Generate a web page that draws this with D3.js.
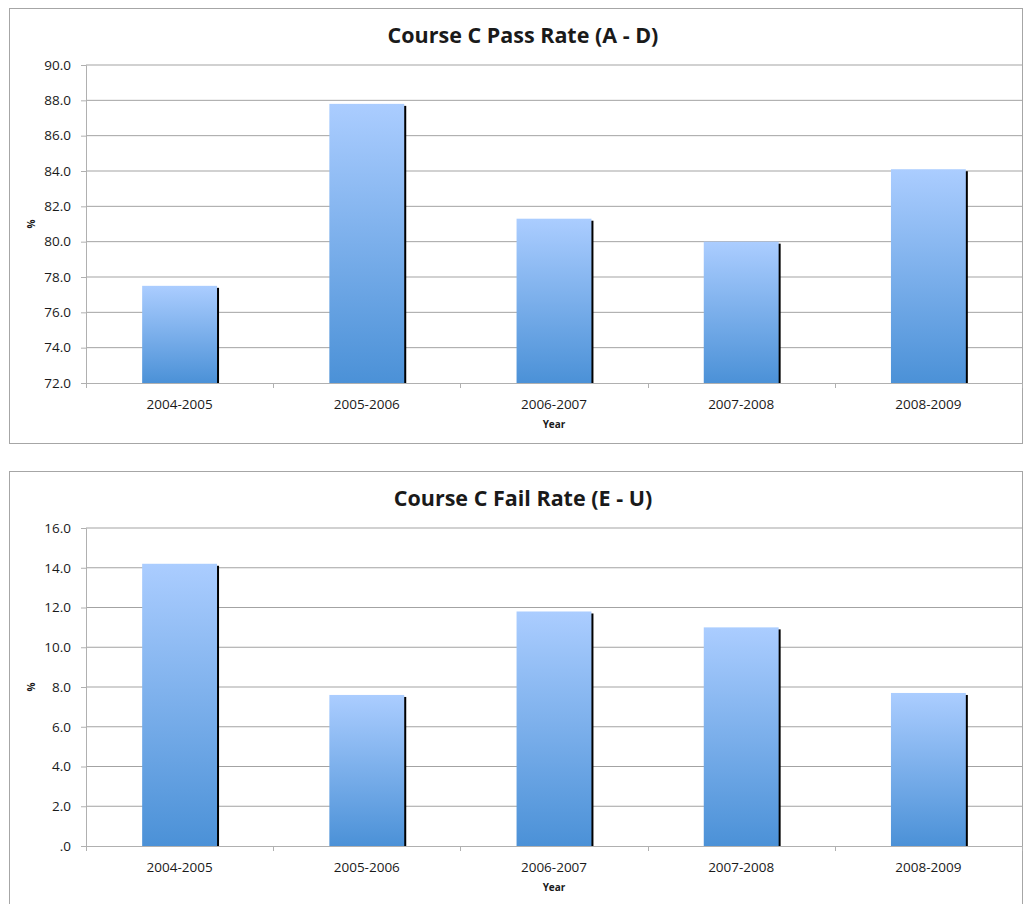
<!DOCTYPE html>
<html>

<head>
    <meta charset="utf-8">
    <script src="https://d3js.org/d3.v7.min.js"></script>
    <style>
        body { margin: 0; background: #fff; }
        text { font-family: "Open Sans", Lato, sans-serif; fill: #1a1a1a; }
    </style>
</head>

<body>
    <div id="viz"></div>

    <script>

        // data
        var years = ["2004-2005", "2005-2006", "2006-2007", "2007-2008", "2008-2009"];
        var passRate = [77.5, 87.8, 81.3, 80.0, 84.1];
        var failRate = [14.2, 7.6, 11.8, 11.0, 7.7];
        var passTicks = [72, 74, 76, 78, 80, 82, 84, 86, 88, 90];
        var failTicks = [0, 2, 4, 6, 8, 10, 12, 14, 16];

        var W = 1024, H = 904;

        var svg = d3.select("#viz")
            .append("svg")
            .attr("width", W)
            .attr("height", H);

        // shared gradient for the bars
        var defs = svg.append("defs");
        var grad = defs.append("linearGradient")
            .attr("id", "barGrad")
            .attr("x1", 0).attr("y1", 0).attr("x2", 0).attr("y2", 1);
        grad.append("stop").attr("offset", "0%").attr("stop-color", "#abcdff");
        grad.append("stop").attr("offset", "100%").attr("stop-color", "#4b91d7");

        function drawChart(top, title, values, ticks) {
            var g = svg.append("g").attr("transform", "translate(0," + top + ")");

            // outer frame
            g.append("rect")
                .attr("x", 9.5).attr("y", 0.5)
                .attr("width", 1013).attr("height", 435)
                .attr("fill", "#fff")
                .attr("stroke", "#a6a6a6");

            var plotTop = 57, plotBottom = 375, plotLeft = 86, plotRight = 1022;

            var x = d3.scaleBand()
                .domain(years)
                .range([plotLeft, plotRight])
                .paddingInner(0.6)
                .paddingOuter(0.3);

            var y = d3.scaleLinear()
                .domain([ticks[0], ticks[ticks.length - 1]])
                .range([plotBottom, plotTop]);

            // gridlines
            g.append("g")
                .selectAll("line")
                .data(ticks.slice(1))
                .enter()
                .append("line")
                .attr("x1", plotLeft).attr("x2", plotRight)
                .attr("y1", function (d) { return y(d) })
                .attr("y2", function (d) { return y(d) })
                .attr("stroke", "#a3a3a3");

            // y axis
            var yAxis = g.append("g")
                .attr("transform", "translate(" + plotLeft + ",0)")
                .call(d3.axisLeft(y)
                    .tickValues(ticks)
                    .tickSize(5)
                    .tickPadding(10)
                    .tickFormat(function (d) { return d === 0 ? ".0" : d.toFixed(1) }));
            yAxis.select(".domain").attr("stroke", "#b0b0b0");
            yAxis.selectAll(".tick line").attr("stroke", "#b0b0b0");
            yAxis.selectAll("text")
                .style("font-size", "13.5px")
                .attr("fill", "#1a1a1a");

            // x axis, ticks sit between categories
            var bounds = d3.range(years.length + 1).map(function (i) {
                return plotLeft + i * (plotRight - plotLeft) / years.length;
            });
            g.append("line")
                .attr("x1", plotLeft).attr("x2", plotRight)
                .attr("y1", plotBottom + 0.5).attr("y2", plotBottom + 0.5)
                .attr("stroke", "#b0b0b0");
            g.append("g")
                .selectAll("line")
                .data(bounds)
                .enter()
                .append("line")
                .attr("x1", function (d) { return Math.round(d) + 0.5 })
                .attr("x2", function (d) { return Math.round(d) + 0.5 })
                .attr("y1", plotBottom).attr("y2", plotBottom + 5)
                .attr("stroke", "#b0b0b0");

            g.append("g")
                .selectAll("text")
                .data(years)
                .enter()
                .append("text")
                .attr("x", function (d) { return x(d) + x.bandwidth() / 2 })
                .attr("y", plotBottom + 26)
                .attr("text-anchor", "middle")
                .style("font-size", "13.5px")
                .text(function (d) { return d });

            // bar shadows then bars
            var data = years.map(function (d, i) { return { year: d, value: values[i] } });
            g.append("g")
                .selectAll("rect")
                .data(data)
                .enter()
                .append("rect")
                .attr("x", function (d) { return x(d.year) + 2 })
                .attr("y", function (d) { return y(d.value) + 2 })
                .attr("width", x.bandwidth())
                .attr("height", function (d) { return plotBottom - y(d.value) - 2 })
                .attr("fill", "#000");
            g.append("g")
                .selectAll("rect")
                .data(data)
                .enter()
                .append("rect")
                .attr("x", function (d) { return x(d.year) })
                .attr("y", function (d) { return y(d.value) })
                .attr("width", x.bandwidth())
                .attr("height", function (d) { return plotBottom - y(d.value) })
                .attr("fill", "url(#barGrad)");

            // titles
            g.append("text")
                .attr("x", 523).attr("y", 35)
                .attr("text-anchor", "middle")
                .style("font-size", "21.5px")
                .style("font-weight", "bold")
                .text(title);
            g.append("text")
                .attr("x", (plotLeft + plotRight) / 2).attr("y", plotBottom + 45)
                .attr("text-anchor", "middle")
                .style("font-size", "10px")
                .style("font-weight", "bold")
                .text("Year");
            g.append("text")
                .attr("transform", "translate(35," + (plotTop + plotBottom) / 2 + ") rotate(-90)")
                .attr("text-anchor", "middle")
                .style("font-size", "10px")
                .style("font-weight", "bold")
                .text("%");
        }

        drawChart(8, "Course C Pass Rate (A - D)", passRate, passTicks);
        drawChart(471, "Course C Fail Rate (E - U)", failRate, failTicks);

    </script>
</body>

</html>
